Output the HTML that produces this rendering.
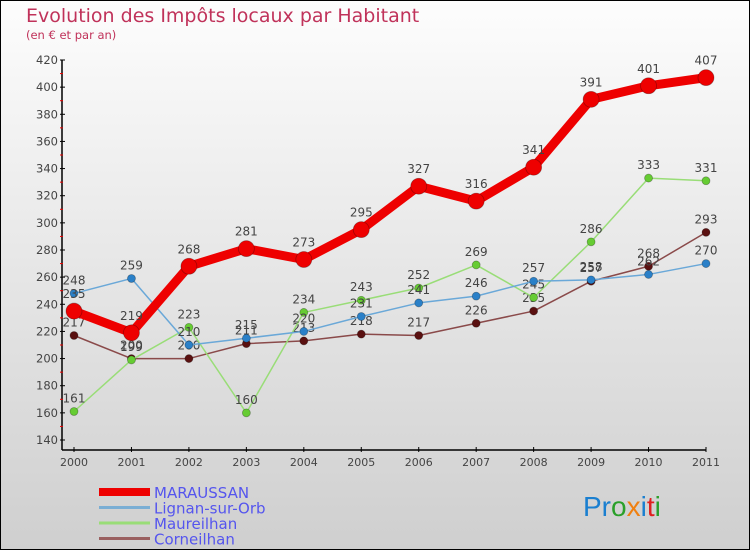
<!DOCTYPE html>
<html><head><meta charset="utf-8"><style>
body{margin:0;width:750px;height:550px;overflow:hidden}
svg{display:block;font-family:"DejaVu Sans","Liberation Sans",sans-serif}
</style></head><body>
<svg id="chart" width="750" height="550" viewBox="0 0 750 550">
<defs><linearGradient id="bg" x1="0" y1="0" x2="0" y2="1"><stop offset="0" stop-color="#fdfdfd"/><stop offset="1" stop-color="#cfcfcf"/></linearGradient></defs>
<rect x="0.5" y="0.5" width="749" height="549" fill="url(#bg)" stroke="#000"/>
<text x="26" y="22" font-size="19" fill="#c0325a">Evolution des Impôts locaux par Habitant</text>
<text x="26" y="39" font-size="11.5" fill="#c0325a">(en € et par an)</text>
<g id="axes"></g><g id="series"></g><g id="legend"></g>
<text x="583" y="516" font-size="28" font-family="Liberation Sans,sans-serif"><tspan fill="#1a7fd0">Pr</tspan><tspan fill="#2aa02a">o</tspan><tspan fill="#f08010">x</tspan><tspan fill="#1a7fd0">i</tspan><tspan fill="#e02020">t</tspan><tspan fill="#2aa02a">i</tspan></text>
</svg>
<script>
const years=[2000,2001,2002,2003,2004,2005,2006,2007,2008,2009,2010,2011];
const yTicks=[140,160,180,200,220,240,260,280,300,320,340,360,380,400,420];
const marausan=[235,219,268,281,273,295,327,316,341,391,401,407];
const lignan=[248,259,210,215,220,231,241,246,257,258,262,270];
const maureilhan=[161,199,223,160,234,243,252,269,245,286,333,331];
const corneilhan=[217,200,200,211,213,218,217,226,235,257,268,293];
const seriesNames=["MARAUSSAN","Lignan-sur-Orb","Maureilhan","Corneilhan"];
const NS="http://www.w3.org/2000/svg";
const X=i=>74+i*(632/11);
const Y=v=>60+(420-v)*(380/280);
function mk(tag,attrs,parent){const e=document.createElementNS(NS,tag);for(const k in attrs)e.setAttribute(k,attrs[k]);parent.appendChild(e);return e;}
const ax=document.getElementById('axes');
let a=mk('line',{x1:62,y1:Y(420),x2:62,y2:Y(140)+10,stroke:'#000','stroke-width':1.5},ax);


a=mk('line',{x1:62,y1:450,x2:X(11),y2:450,stroke:'#000','stroke-width':1.5},ax);


yTicks.forEach(v=>{
  mk('line',{x1:60,y1:Y(v),x2:65,y2:Y(v),stroke:'#000'},ax);
  if(v<420)mk('line',{x1:60,y1:Y(v+10),x2:63,y2:Y(v+10),stroke:'#e00'},ax);
  const t=mk('text',{x:58,y:Y(v)+4,'font-size':11.5,'text-anchor':'end',fill:'#444'},ax);
  t.textContent=v;
  
  
});
years.forEach((yr,i)=>{
  mk('line',{x1:X(i),y1:447,x2:X(i),y2:452,stroke:'#000'},ax);
  const t=mk('text',{x:X(i),y:466,'font-size':11,'text-anchor':'middle',fill:'#444'},ax);
  t.textContent=yr;
  
  
});
const sg=document.getElementById('series');
const defs=[
 {d:corneilhan,line:'#8a4a4a',dot:'#5a1010',w:1.5,r:4,n:'corneilhan'},
 {d:maureilhan,line:'#99dd77',dot:'#66cc33',w:1.5,r:4,n:'maureilhan'},
 {d:lignan,line:'#6aa8d8',dot:'#2a80c8',w:1.5,r:4,n:'lignan-sur-orb'},
 {d:marausan,line:'#ee0000',dot:'#ee0000',w:9,r:8,n:'maraussan'}];
defs.forEach(s=>{
  const g=mk('g',{},sg);
  
  
  const p=mk('polyline',{points:s.d.map((v,i)=>X(i)+','+Y(v)).join(' '),fill:'none',stroke:s.line,'stroke-width':s.w,'stroke-linejoin':'round'},g);
  
  
  s.d.forEach((v,i)=>{
    const c=mk('circle',{cx:X(i),cy:Y(v),r:s.r,fill:s.dot,stroke:'rgba(0,0,0,0.3)','stroke-width':0.8},g);
    
    
    const t=mk('text',{x:X(i),y:Y(v)-(s.r+5),'font-size':12,'text-anchor':'middle',fill:'#444'},g);
    t.textContent=v;
    
    
  });
});
const lg=document.getElementById('legend');
const lst=[{c:'#ee0000',w:8},{c:'#7aaed4',w:3},{c:'#99dd77',w:3},{c:'#9a6060',w:3}];
seriesNames.forEach((nm,i)=>{
  const y=492+i*15.5;
  const g=mk('g',{},lg);
  
  
  mk('line',{x1:99,y1:y,x2:150,y2:y,stroke:lst[i].c,'stroke-width':lst[i].w},g);
  const t=mk('text',{x:154,y:y+6,'font-size':15,fill:'#5555ee'},g);
  t.textContent=nm;
});
</script>
</body></html>
